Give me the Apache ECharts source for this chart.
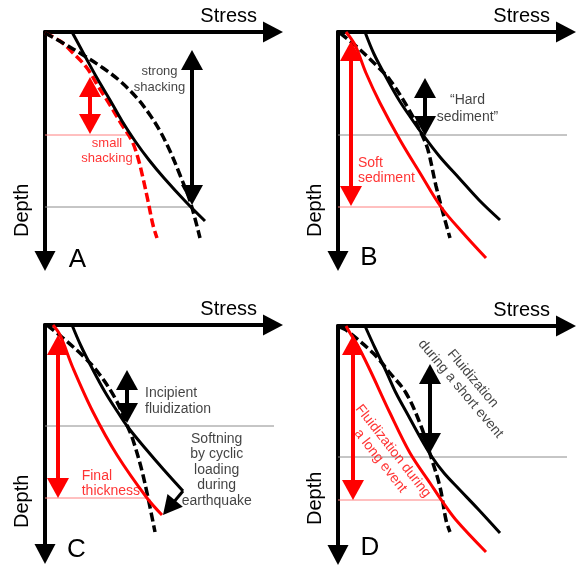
<!DOCTYPE html>
<html>
<head>
<meta charset="utf-8">
<script src="https://cdn.jsdelivr.net/npm/echarts@6/dist/echarts.min.js"></script>
<style>
html, body { margin: 0; padding: 0; background: #fff; }
#chart { width: 580px; height: 569px; }
</style>
</head>
<body>
<div id="chart"></div>
<script>
// Stress (x) / depth (y) samples, in shared arbitrary units, one set per panel.

// Panel A: strong vs small shaking
const blackSolidA  = [[27,0],[41,26],[52,46],[65,68],[77,89],[90,109],[104,128],[119,146],[141,170],[160,189]];
const blackDashedA = [[0,1],[18,11],[38,23],[58,36],[75,49],[92,66],[105,83],[115,99],[125,119],[135,143],[145,169],[155,206]];
const redDashedA   = [[0,1],[15,9],[28,21],[42,36],[53,54],[65,73],[77,93],[87,109],[93,126],[98,146],[103,169],[108,193],[112,206]];
const redLevelA    = [[0,103],[84,103]];
const grayLevelA   = [[0,175],[145,175]];
const redSpanA     = [45, 45, 102];   // stress, top depth, bottom depth
const blackSpanA   = [147, 18, 173];

// Panel B: hard vs soft sediment
const blackSolidB  = [[27,0],[36,22],[48,45],[61,68],[73,86],[85,103],[102,125],[121,146],[141,168],[162,188]];
const blackDashedB = [[2,1],[18,14],[38,33],[52,48],[70,76],[84,103],[90,118],[98,154],[105,181],[112,206]];
const redSolidB    = [[8,0],[17,13],[28,41],[42,71],[62,108],[82,141],[103,175],[125,201],[148,226]];
const grayLevelB   = [[0,103],[233,103]];
const redLevelB    = [[0,175],[103,175]];
const redSpanB     = [13, 9, 174];
const blackSpanB   = [87, 46, 104];

// Panel C: incipient fluidization and softening
const blackSolidC  = [[27,0],[36,21],[47,43],[60,67],[72,86],[82,101],[100,123],[119,145],[138,166]];
const softeningC   = [138, 166, 118, 190];  // from stress/depth to stress/depth
const blackDashedC = [[2,0],[18,13],[38,31],[52,46],[70,73],[82,100],[88,115],[98,150],[110,207]];
const redSolidC    = [[8,0],[15,10],[28,43],[48,87],[72,130],[102,173],[117,190]];
const grayLevelC   = [[0,101],[232,101]];
const redLevelC    = [[0,173],[102,173]];
const redSpanC     = [13, 10, 173];
const blackSpanC   = [82, 45, 98];

// Panel D: short vs long event
const blackSolidD  = [[27,0],[37,22],[48,45],[58,67],[70,89],[82,111],[94,131],[106,147],[120,162],[140,183],[162,207]];
const blackDashedD = [[2,1],[8,4],[35,27],[52,47],[68,67],[83,100],[93,131],[102,161],[108,194],[112,206]];
const redSolidD    = [[8,0],[12,7],[20,20],[32,44],[52,87],[72,127],[92,157],[104,175],[118,194],[148,226]];
const grayLevelD   = [[0,131],[233,131]];
const redLevelD    = [[0,174],[104,174]];
const redSpanD     = [15, 9, 174];
const blackSpanD   = [92, 38, 127];

const panelLetters = ['A', 'B', 'C', 'D'];
const axisTitles = { x: 'Stress', y: 'Depth' };

// ---- layout and styling ----
const FONT = '"Liberation Sans", Arial, Helvetica, sans-serif';
const RED = '#ff0000';
const INK = '#111';
const STRESS_MAX = 228, DEPTH_MAX = 229;
const panels = [
  { left: 45,  top: 32,  depthGap: -24, letterX: 77.5, letterY: 259.5 },
  { left: 338, top: 32,  depthGap: -24, letterX: 369,  letterY: 258 },
  { left: 45,  top: 325, depthGap: -26, letterX: 76.5, letterY: 550 },
  { left: 338, top: 326, depthGap: -30, letterX: 370,  letterY: 547.5 }
];

const grids = panels.map(p => ({ left: p.left, top: p.top, width: STRESS_MAX, height: DEPTH_MAX }));

const axisLineStyle = { color: '#000', width: 4 };
const xAxes = panels.map((p, i) => ({
  gridIndex: i, type: 'value', min: 0, max: STRESS_MAX, position: 'top',
  axisLine: { show: true, onZero: false, lineStyle: axisLineStyle, symbol: ['none', 'triangle'], symbolSize: [21, 20] },
  axisTick: { show: false }, axisLabel: { show: false }, splitLine: { show: false },
  name: axisTitles.x, nameLocation: 'end', nameGap: -16,
  nameTextStyle: { fontFamily: FONT, fontSize: 20, color: '#000', align: 'right', verticalAlign: 'bottom', lineHeight: 32 }
}));
const yAxes = panels.map((p, i) => ({
  gridIndex: i, type: 'value', min: 0, max: DEPTH_MAX, inverse: true, position: 'left',
  axisLine: { show: true, onZero: false, lineStyle: axisLineStyle, symbol: ['triangle', 'none'], symbolSize: [21, 20] },
  axisTick: { show: false }, axisLabel: { show: false }, splitLine: { show: false },
  name: axisTitles.y, nameLocation: 'end', nameGap: p.depthGap, nameRotate: 90,
  nameTextStyle: { fontFamily: FONT, fontSize: 20, color: '#000', align: 'left', verticalAlign: 'bottom', lineHeight: 45 }
}));

const series = [];

function curve(panel, data, color, dashed, width) {
  series.push({
    type: 'line', xAxisIndex: panel, yAxisIndex: panel, data: data,
    smooth: 0.35, symbol: 'none', clip: false, silent: true, z: 3,
    lineStyle: { color: color, width: width || (dashed ? 3.5 : 3), type: dashed ? [9, 4] : 'solid', cap: 'butt' }
  });
}
function level(panel, data, color) {
  series.push({
    type: 'line', xAxisIndex: panel, yAxisIndex: panel, data: data,
    symbol: 'none', clip: false, silent: true, z: 1,
    lineStyle: { color: color, width: 1 }
  });
}

// double-headed vertical arrow between two depths at one stress value
function doubleArrow(panel, span, color) {
  series.push({
    type: 'custom', xAxisIndex: panel, yAxisIndex: panel, data: [span], silent: true, z: 5,
    renderItem: function (params, api) {
      const a = api.coord([api.value(0), api.value(1)]);
      const b = api.coord([api.value(0), api.value(2)]);
      const L = 20, W = 11;
      return { type: 'group', children: [
        { type: 'line', shape: { x1: a[0], y1: a[1] + L - 2, x2: b[0], y2: b[1] - L + 2 }, style: { stroke: color, lineWidth: 4 } },
        { type: 'polygon', shape: { points: [[a[0], a[1]], [a[0] - W, a[1] + L], [a[0] + W, a[1] + L]] }, style: { fill: color } },
        { type: 'polygon', shape: { points: [[b[0], b[1]], [b[0] - W, b[1] - L], [b[0] + W, b[1] - L]] }, style: { fill: color } }
      ] };
    }
  });
}

// single straight arrow from one point to another
function pointer(panel, seg, color) {
  series.push({
    type: 'custom', xAxisIndex: panel, yAxisIndex: panel, data: [seg], silent: true, z: 5,
    renderItem: function (params, api) {
      const a = api.coord([api.value(0), api.value(1)]);
      const b = api.coord([api.value(2), api.value(3)]);
      const dx = b[0] - a[0], dy = b[1] - a[1];
      const len = Math.sqrt(dx * dx + dy * dy);
      const ux = dx / len, uy = dy / len;
      const L = 19, W = 10;
      const bx = b[0] - ux * L, by = b[1] - uy * L;
      return { type: 'group', children: [
        { type: 'line', shape: { x1: a[0], y1: a[1], x2: bx + ux * 2, y2: by + uy * 2 }, style: { stroke: color, lineWidth: 3 } },
        { type: 'polygon', shape: { points: [[b[0], b[1]], [bx - uy * W, by + ux * W], [bx + uy * W, by - ux * W]] }, style: { fill: color } }
      ] };
    }
  });
}

// annotation text anchored in stress/depth units
function note(panel, at, text, color, opts) {
  const o = opts || {};
  series.push({
    type: 'scatter', xAxisIndex: panel, yAxisIndex: panel, data: [at],
    symbolSize: 0, silent: true, clip: false, z: 8,
    label: {
      show: true, position: 'inside', formatter: text, color: color,
      fontFamily: FONT, fontSize: o.size || 14, lineHeight: o.lh || 15,
      align: o.align || 'center', verticalAlign: 'middle', rotate: o.rotate || 0
    }
  });
}

// Panel A
level(0, redLevelA, '#ff8080');
level(0, grayLevelA, '#8c8c8c');
curve(0, redDashedA, RED, true);
curve(0, blackDashedA, '#000', true);
curve(0, blackSolidA, '#000', false);
doubleArrow(0, redSpanA, RED);
doubleArrow(0, blackSpanA, '#000');
note(0, [114.5, 47], 'strong\nshacking', INK, { size: 13, lh: 16 });
note(0, [62, 118.5], 'small\nshacking', RED, { size: 13, lh: 15 });

// Panel B
level(1, grayLevelB, '#8c8c8c');
level(1, redLevelB, '#ff8080');
curve(1, blackDashedB, '#000', true);
curve(1, blackSolidB, '#000', false);
curve(1, redSolidB, RED, false);
doubleArrow(1, redSpanB, RED);
doubleArrow(1, blackSpanB, '#000');
note(1, [129.5, 76.5], '\u201CHard\nsediment\u201D', INK, { lh: 17 });
note(1, [20, 138.5], 'Soft\nsediment', RED, { align: 'left', lh: 15 });

// Panel C
level(2, grayLevelC, '#8c8c8c');
level(2, redLevelC, '#ff8080');
curve(2, blackDashedC, '#000', true);
curve(2, blackSolidC, '#000', false);
curve(2, redSolidC, RED, false);
pointer(2, softeningC, '#000');
doubleArrow(2, redSpanC, RED);
doubleArrow(2, blackSpanC, '#000');
note(2, [100, 76], 'Incipient\nfluidization', INK, { align: 'left', lh: 16 });
note(2, [171.7, 145], 'Softning\nby cyclic\nloading\nduring\nearthquake', INK, { lh: 15.5 });
note(2, [36.7, 159], 'Final\nthickness', RED, { align: 'left', lh: 15 });

// Panel D
level(3, grayLevelD, '#8c8c8c');
level(3, redLevelD, '#ff8080');
curve(3, blackDashedD, '#000', true);
curve(3, blackSolidD, '#000', false);
curve(3, redSolidD, RED, false);
doubleArrow(3, redSpanD, RED);
doubleArrow(3, blackSpanD, '#000');
note(3, [128.7, 57.7], 'Fluidization\nduring a short event', INK, { lh: 16, rotate: -50 });
note(3, [48.8, 130], 'Fluidization during\na long event', RED, { lh: 16, rotate: -52 });

const chart = echarts.init(document.getElementById('chart'), null, { renderer: 'canvas' });
chart.setOption({
  animation: false,
  backgroundColor: '#fff',
  grid: grids,
  xAxis: xAxes,
  yAxis: yAxes,
  series: series,
  graphic: panels.map((p, i) => ({
    type: 'text', x: p.letterX, y: p.letterY, silent: true,
    style: { text: panelLetters[i], fontFamily: FONT, fontSize: 26, fill: '#000', align: 'center', verticalAlign: 'middle', textAlign: 'center', textVerticalAlign: 'middle' }
  }))
});
</script>
</body>
</html>
